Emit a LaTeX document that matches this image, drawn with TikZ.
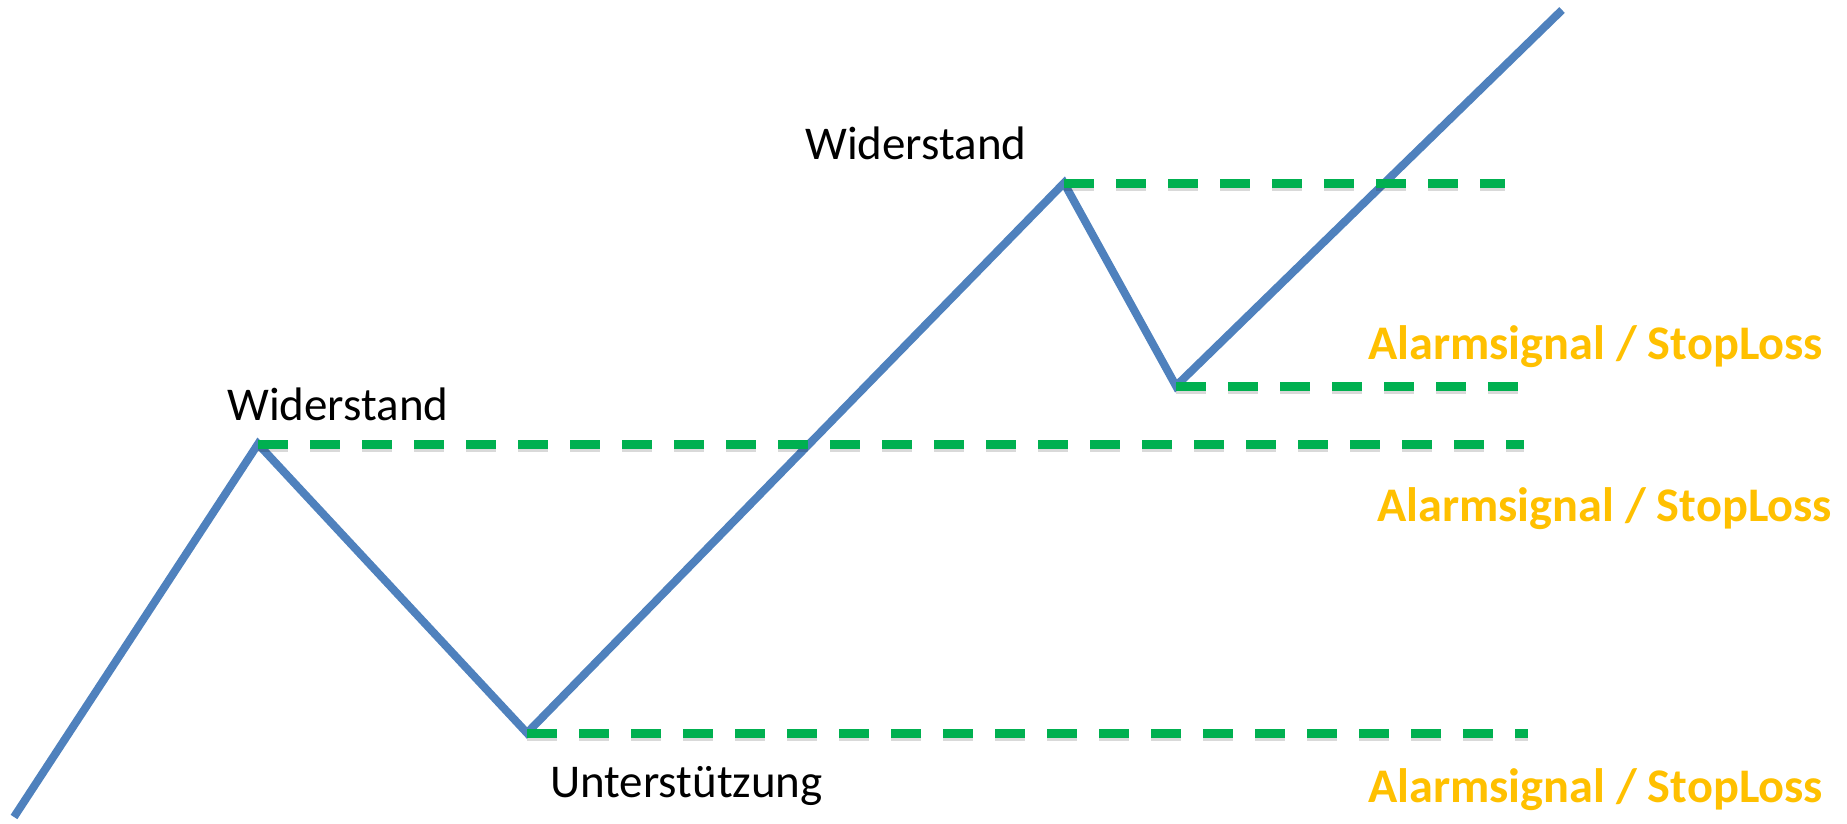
\documentclass[tikz,border=0pt]{standalone}
\usepackage{fontspec}
\setmainfont{Carlito}
\definecolor{lineblue}{HTML}{4F81BD}
\definecolor{dashgreen}{HTML}{00B050}
\definecolor{alarm}{HTML}{FFC000}
\begin{document}
\begin{tikzpicture}[x=1pt,y=-1pt,
  price/.style={lineblue, line width=8pt, line join=miter},
  level/.style={dashgreen, line width=9pt, dash pattern=on 30pt off 22pt},
  levelshadow/.style={black, opacity=0.15, line width=9pt, dash pattern=on 30pt off 22pt},
  lbl/.style={font=\fontsize{47}{56}\selectfont, anchor=base west, inner sep=0pt},
  alarmlbl/.style={font=\bfseries\fontsize{48.3}{58}\selectfont, text=alarm, anchor=base west, inner sep=0pt}]
\useasboundingbox (0,0) rectangle (1847,824);
% price path points
\coordinate (s)  at (14,817);
\coordinate (p1) at (258,444);
\coordinate (t1) at (527,733);
\coordinate (p2) at (1064,183);
\coordinate (t2) at (1176,386);
\coordinate (e)  at (1562,10);
% level ends
\coordinate (l1) at (1505,183);
\coordinate (l2) at (1520,386);
\coordinate (l3) at (1524,444);
\coordinate (l4) at (1528,733);
\draw[price] (s) -- (p1) -- (t1) -- (p2) -- (t2) -- (e);
\foreach \a/\b in {p2/l1, t2/l2, p1/l3, t1/l4}{
  \draw[levelshadow] ([yshift=-3pt]\a) -- ([yshift=-3pt]\b);
  \draw[level] (\a) -- (\b);
}
% labels
\node[lbl] (w1) at (227,420) {Widerstand};
\node[lbl] (w2) at (805,160) {Widerstand};
\node[lbl] (u)  at (550,797) {Unterstützung};
\node[alarmlbl] (a1) at (1368,359) {Alarmsignal / StopLoss};
\node[alarmlbl] (a2) at (1377,521) {Alarmsignal / StopLoss};
\node[alarmlbl] (a3) at (1368,802) {Alarmsignal / StopLoss};
\end{tikzpicture}
\end{document}
